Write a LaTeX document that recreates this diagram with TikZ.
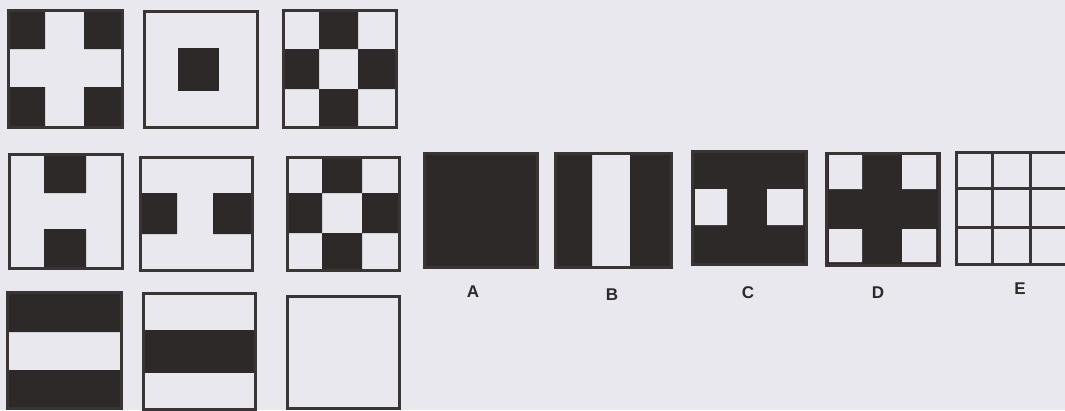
\documentclass[tikz,border=0pt]{standalone}
\usepackage{fontspec}
\setmainfont{Liberation Sans}
\definecolor{paper}{HTML}{E9E8EF}
\definecolor{ink}{HTML}{2E2929}
\definecolor{rim}{HTML}{3A3434}

\begin{document}
\begin{tikzpicture}[
  x=1pt, y=-1pt,
  tile/.style={draw=rim, line width=3pt},
  ink/.style={fill=ink},
  blank/.style={fill=paper},
  lbl/.style={text=ink, font=\fontsize{17}{19}\selectfont\bfseries, inner sep=0pt},
]
\useasboundingbox[fill=paper] (0,0) rectangle (1065,410);

% row 1
\fill[ink] (8,10) rectangle (45,49) (84,10) rectangle (122,49)
           (8,87) rectangle (45,127) (84,87) rectangle (122,127);
\draw[tile] (8,10) rectangle (122,127);
\fill[ink] (178,48) rectangle (219,91);
\draw[tile] (144,11) rectangle (257,127);
\fill[ink] (319,10) rectangle (358,49) (283,49) rectangle (319,89)
           (358,49) rectangle (396,89) (319,89) rectangle (358,127);
\draw[tile] (283,10) rectangle (396,127);

% row 2
\fill[ink] (44,154) rectangle (86,193) (44,229) rectangle (86,268);
\draw[tile] (9,154) rectangle (122,268);
\fill[ink] (140,193) rectangle (177,234) (213,193) rectangle (252,234);
\draw[tile] (140,157) rectangle (252,270);
\fill[ink] (322,157) rectangle (362,193) (287,193) rectangle (322,233)
           (362,193) rectangle (399,233) (322,233) rectangle (362,270);
\draw[tile] (287,157) rectangle (399,270);

% row 3
\fill[ink] (7,292) rectangle (121,332) (7,370) rectangle (121,408);
\draw[tile] (7,292) rectangle (121,408);
\fill[ink] (143,330) rectangle (255,373);
\draw[tile] (143,293) rectangle (255,409);
\draw[tile] (287,296) rectangle (399,408);

% answers
\fill[ink] (424,153) rectangle (537,267);
\draw[tile] (424,153) rectangle (537,267);

\fill[ink] (555,153) rectangle (592,267) (630,153) rectangle (671,267);
\draw[tile] (555,153) rectangle (671,267);

\fill[ink] (692,151) rectangle (806,264);
\fill[blank] (695,189) rectangle (727,225) (767,189) rectangle (803,225);
\draw[tile] (692,151) rectangle (806,264);

\fill[ink] (826,153) rectangle (939,265);
\fill[blank] (829,155) rectangle (862,189) (902,155) rectangle (936,189)
             (829,229) rectangle (862,262) (902,229) rectangle (936,262);
\draw[tile] (826,153) rectangle (939,265);

\draw[tile] (956,152) rectangle (1068,264);
\foreach \gx in {992,1030} \draw[tile] (\gx,152) -- (\gx,264);
\foreach \gy in {188,227} \draw[tile] (956,\gy) -- (1068,\gy);

\node[lbl] (la) at (473,292) {A};
\node[lbl] (lb) at (612,295) {B};
\node[lbl] (lc) at (748,293) {C};
\node[lbl] (ld) at (878,293) {D};
\node[lbl] (le) at (1020,289) {E};
\end{tikzpicture}
\end{document}
